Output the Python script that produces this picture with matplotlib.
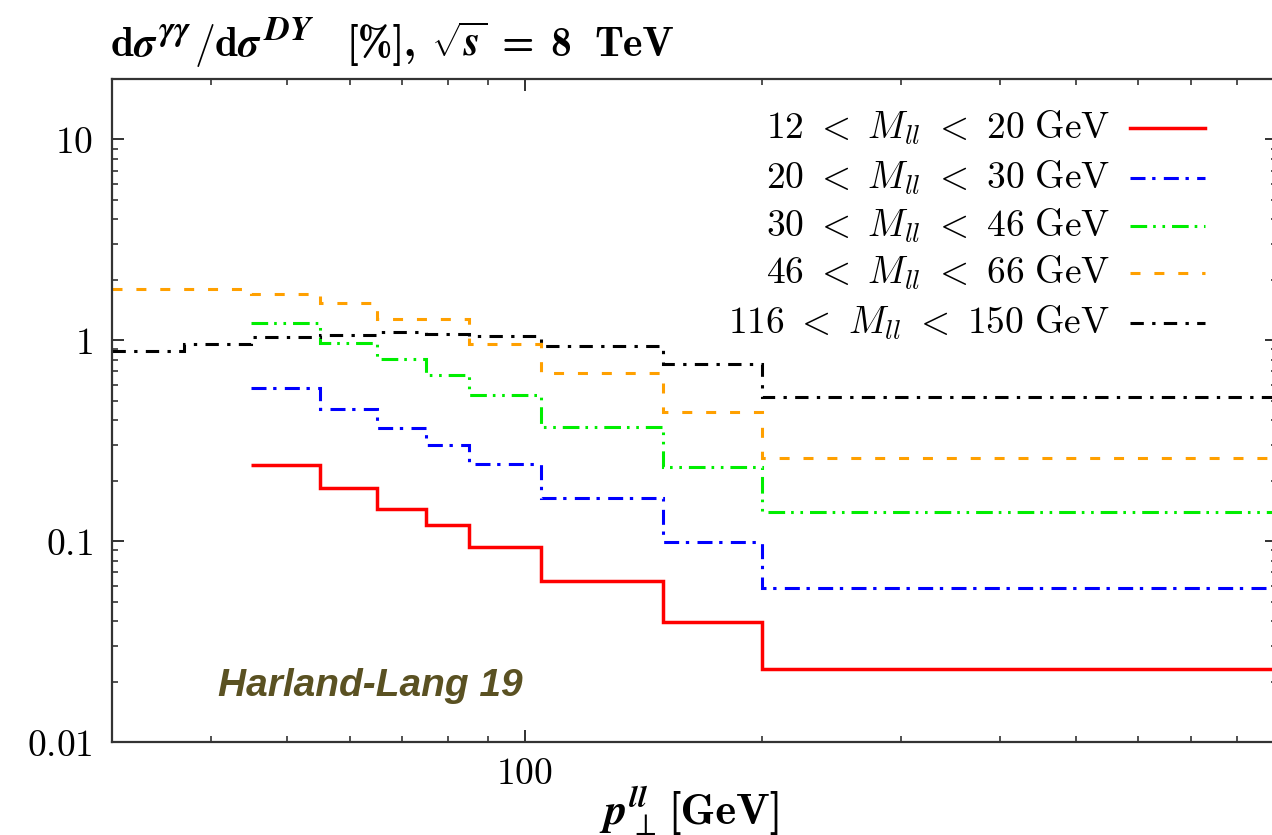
import matplotlib
matplotlib.use("Agg")
import matplotlib.pyplot as plt
from matplotlib.ticker import NullFormatter, LogLocator

plt.rcParams['mathtext.fontset'] = 'cm'
plt.rcParams['font.family'] = ['DejaVu Serif']
plt.rcParams['lines.scale_dashes'] = False

# ---- data ----
edges_wide = [30, 37, 45, 55, 65, 75, 85, 105, 150, 200, 900]
edges_narrow = [45, 55, 65, 75, 85, 105, 150, 200, 900]

labels = [r'$12\ <\ M_{ll}\ <\ 20\ \mathrm{GeV}$',
          r'$20\ <\ M_{ll}\ <\ 30\ \mathrm{GeV}$',
          r'$30\ <\ M_{ll}\ <\ 46\ \mathrm{GeV}$',
          r'$46\ <\ M_{ll}\ <\ 66\ \mathrm{GeV}$',
          r'$116\ <\ M_{ll}\ <\ 150\ \mathrm{GeV}$']

ratio_12_20 = [0.239, 0.183, 0.144, 0.120, 0.0931, 0.0633, 0.0394, 0.0230]
ratio_20_30 = [0.581, 0.455, 0.367, 0.300, 0.241, 0.1645, 0.0993, 0.0582]
ratio_30_46 = [1.215, 0.973, 0.804, 0.672, 0.534, 0.369, 0.2347, 0.140]
ratio_46_66 = [1.795, 1.795, 1.70, 1.53, 1.27, 1.27, 0.958, 0.69, 0.441, 0.2585]
ratio_116_150 = [0.888, 0.958, 1.035, 1.063, 1.094, 1.081, 1.054, 0.937, 0.762, 0.520]

yticks = [0.01, 0.1, 1, 10]
ytick_labels = [r'$0.01$', r'$0.1$', r'$1$', r'$10$']
xticks = [100]
xtick_labels = [r'$100$']

series = [
    (edges_narrow, ratio_12_20, '#ff0000', '-', 2.5),
    (edges_narrow, ratio_20_30, '#0000ff', (0, (10.8, 4.8, 2.4, 6.0)), 2.2),
    (edges_narrow, ratio_30_46, '#00ee00', (0, (12, 4.3, 1.9, 4.8, 1.9, 5.0)), 2.2),
    (edges_wide, ratio_46_66, '#ffa000', (0, (7.2, 10.0)), 2.2),
    (edges_wide, ratio_116_150, '#000000', (0, (9.6, 6.0, 2.4, 6.0)), 2.2),
]

W, H = 1272, 835
fig = plt.figure(figsize=(W / 100, H / 100), dpi=100)
L, R, T, B = 112, 1277.4, 79, 742
ax = fig.add_axes([L / W, (H - B) / H, (R - L) / W, (B - T) / H])
ax.set_xscale('log')
ax.set_yscale('log')
ax.set_xlim(30, 900)
ax.set_ylim(0.01, 20)

for edges, vals, col, ls, lw in series:
    ax.stairs(vals, edges, baseline=None, color=col, linestyle=ls, linewidth=lw)

ax.set_xticks(xticks, labels=xtick_labels)
ax.set_yticks(yticks, labels=ytick_labels)
ax.xaxis.set_minor_locator(LogLocator(base=10, subs=range(2, 10)))
ax.yaxis.set_minor_locator(LogLocator(base=10, subs=range(2, 10)))
ax.xaxis.set_minor_formatter(NullFormatter())
ax.yaxis.set_minor_formatter(NullFormatter())
ax.tick_params(which='both', direction='in', top=True, right=True, colors='#222222')
ax.tick_params(which='major', length=8.6, width=1.3, labelsize=27, labelcolor='black')
ax.tick_params(axis='y', which='major', pad=14)
ax.tick_params(axis='x', which='major', pad=10)
ax.tick_params(which='minor', length=4, width=1.1)
for s in ax.spines.values():
    s.set_linewidth(1.6)
    s.set_color('#333333')

# legend (text right-aligned, sample to the right)
row_y = [128, 178, 226, 273, 323]
tx = (1110 - L) / (R - L)
sx0 = (1130 - L) / (R - L)
sx1 = (1205 - L) / (R - L)
for (edges, vals, col, ls, lw), lab, py in zip(series, labels, row_y):
    yy = (B - py) / (B - T)
    ax.text(tx, yy, lab, transform=ax.transAxes, ha='right', va='center', fontsize=27)
    ax.plot([sx0, sx1], [yy, yy], transform=ax.transAxes, color=col,
            linestyle=ls, linewidth=lw)

ax.text((218 - L) / (R - L), (B - 686) / (B - T), 'Harland-Lang 19',
        transform=ax.transAxes, ha='left', va='center', fontsize=28,
        family=['Liberation Sans', 'DejaVu Sans'], weight='bold', style='italic',
        color='#5a5122')

renderer = fig.canvas.get_renderer()


def place_pieces(pieces, x_px, base_px):
    x = x_px
    for text, kw, gap, dy in pieces:
        t = fig.text(x / W, 1 - (base_px - dy) / H, text, ha='left', va='baseline', **kw)
        bb = t.get_window_extent(renderer)
        x = bb.x1 + gap
    return x


bold_cm = dict(family=['cmb10', 'DejaVu Serif'])
title_pieces = [
    (r'$\mathbf{d}\boldsymbol{\sigma}$', dict(fontsize=30), 1, 0),
    (r'$\boldsymbol{\gamma\gamma}$', dict(fontsize=25), 2, 16),
    (r'$/\mathbf{d}\boldsymbol{\sigma}$', dict(fontsize=30), 1, 0),
    (r'$\boldsymbol{DY}$', dict(fontsize=25), 32, 16),
    ('[%],', dict(fontsize=30, **bold_cm), 15, 0),
    (r'$\sqrt{\boldsymbol{s}}$', dict(fontsize=30), 14, 0),
    ('=', dict(fontsize=30, **bold_cm), 16, 0),
    ('8', dict(fontsize=30, **bold_cm), 24, 0),
    ('TeV', dict(fontsize=30, **bold_cm), 0, 0),
]
place_pieces(title_pieces, 110, 56)

xlabel_pieces = [
    (r'$\boldsymbol{p}_{\perp}^{\boldsymbol{ll}}$', dict(fontsize=32), 12, 0),
    ('[GeV]', dict(fontsize=32, **bold_cm), 0, 0),
]
place_pieces(xlabel_pieces, 599, 824)

fig.savefig('out.png', dpi=100)
